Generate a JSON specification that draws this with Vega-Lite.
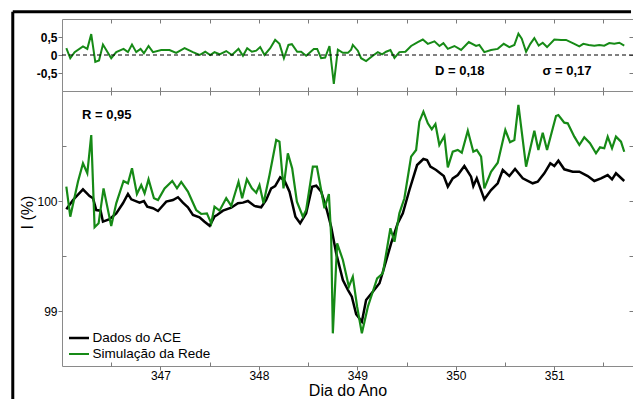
{
  "$schema": "https://vega.github.io/schema/vega-lite/v6.json",
  "padding": {"left": 10, "top": 9, "right": 0, "bottom": 0},
  "autosize": {"type": "pad"},
  "background": "white",
  "spacing": 0,
  "bounds": "flush",
  "config": {
    "font": "Liberation Sans",
    "view": {"stroke": "#8a8a8a", "strokeWidth": 1},
    "axis": {"domain": false, "grid": false, "tickColor": "#7a7a7a", "labelColor": "black", "labelFont": "Liberation Sans", "titleFont": "Liberation Sans", "labelFontSize": 12, "tickSize": 4, "labelPadding": 1, "titleColor": "black"}
  },
  "datasets": {
    "resid": [
      {"dia":346.044,"d":0.19},{"dia":346.084,"d":-0.09},{"dia":346.128,"d":0.08},{"dia":346.213,"d":0.24},{"dia":346.257,"d":0.17},{"dia":346.297,"d":0.58},{"dia":346.338,"d":-0.19},{"dia":346.376,"d":-0.15},{"dia":346.416,"d":0.29},{"dia":346.5,"d":-0.09},{"dia":346.551,"d":0.08},{"dia":346.625,"d":0.17},{"dia":346.67,"d":0.08},{"dia":346.711,"d":0.29},{"dia":346.754,"d":0.08},{"dia":346.798,"d":0.17},{"dia":346.832,"d":0.05},{"dia":346.879,"d":0.25},{"dia":346.924,"d":0.08},{"dia":347.008,"d":0.14},{"dia":347.092,"d":0.14},{"dia":347.16,"d":0.06},{"dia":347.245,"d":0.19},{"dia":347.33,"d":0.08},{"dia":347.397,"d":0.0},{"dia":347.455,"d":0.09},{"dia":347.506,"d":0.0},{"dia":347.549,"d":0.08},{"dia":347.6,"d":0.02},{"dia":347.668,"d":0.11},{"dia":347.726,"d":0.0},{"dia":347.793,"d":0.17},{"dia":347.838,"d":-0.02},{"dia":347.881,"d":0.19},{"dia":347.929,"d":0.09},{"dia":347.973,"d":0.12},{"dia":348.013,"d":0.22},{"dia":348.057,"d":0.0},{"dia":348.115,"d":0.19},{"dia":348.165,"d":0.42},{"dia":348.209,"d":0.31},{"dia":348.254,"d":-0.09},{"dia":348.3,"d":0.28},{"dia":348.335,"d":0.3},{"dia":348.389,"d":0.09},{"dia":348.429,"d":0.09},{"dia":348.48,"d":-0.02},{"dia":348.558,"d":0.17},{"dia":348.592,"d":0.17},{"dia":348.632,"d":-0.09},{"dia":348.673,"d":-0.07},{"dia":348.717,"d":0.25},{"dia":348.761,"d":-0.8},{"dia":348.802,"d":0.15},{"dia":348.853,"d":0.06},{"dia":348.904,"d":0.06},{"dia":348.937,"d":0.15},{"dia":348.954,"d":0.28},{"dia":349.005,"d":0.12},{"dia":349.038,"d":-0.09},{"dia":349.089,"d":-0.17},{"dia":349.157,"d":-0.02},{"dia":349.208,"d":0.08},{"dia":349.252,"d":0.02},{"dia":349.292,"d":0.09},{"dia":349.336,"d":0.14},{"dia":349.377,"d":-0.08},{"dia":349.427,"d":0.08},{"dia":349.488,"d":0.09},{"dia":349.546,"d":0.25},{"dia":349.614,"d":0.36},{"dia":349.665,"d":0.43},{"dia":349.716,"d":0.31},{"dia":349.783,"d":0.38},{"dia":349.834,"d":0.25},{"dia":349.874,"d":0.33},{"dia":349.919,"d":0.17},{"dia":349.986,"d":0.25},{"dia":350.054,"d":0.14},{"dia":350.132,"d":0.36},{"dia":350.206,"d":0.25},{"dia":350.239,"d":0.28},{"dia":350.29,"d":0.08},{"dia":350.358,"d":0.14},{"dia":350.426,"d":0.17},{"dia":350.487,"d":0.31},{"dia":350.544,"d":0.22},{"dia":350.595,"d":0.28},{"dia":350.636,"d":0.59},{"dia":350.67,"d":0.45},{"dia":350.714,"d":0.09},{"dia":350.757,"d":0.31},{"dia":350.798,"d":0.47},{"dia":350.842,"d":0.26},{"dia":350.883,"d":0.34},{"dia":350.927,"d":0.22},{"dia":351.001,"d":0.43},{"dia":351.069,"d":0.42},{"dia":351.12,"d":0.42},{"dia":351.204,"d":0.31},{"dia":351.255,"d":0.24},{"dia":351.295,"d":0.31},{"dia":351.35,"d":0.28},{"dia":351.407,"d":0.26},{"dia":351.458,"d":0.28},{"dia":351.508,"d":0.26},{"dia":351.559,"d":0.33},{"dia":351.61,"d":0.31},{"dia":351.661,"d":0.34},{"dia":351.711,"d":0.26}
    ],
    "main": [
      {"s":"Dados do ACE","dia":346.044,"v":99.925},{"s":"Dados do ACE","dia":346.112,"v":100.009},{"s":"Dados do ACE","dia":346.213,"v":100.106},{"s":"Dados do ACE","dia":346.28,"v":100.045},{"s":"Dados do ACE","dia":346.315,"v":100.025},{"s":"Dados do ACE","dia":346.348,"v":99.918},{"s":"Dados do ACE","dia":346.392,"v":99.912},{"s":"Dados do ACE","dia":346.416,"v":99.812},{"s":"Dados do ACE","dia":346.483,"v":99.834},{"s":"Dados do ACE","dia":346.551,"v":99.888},{"s":"Dados do ACE","dia":346.619,"v":99.979},{"s":"Dados do ACE","dia":346.67,"v":100.064},{"s":"Dados do ACE","dia":346.704,"v":100.015},{"s":"Dados do ACE","dia":346.788,"v":99.985},{"s":"Dados do ACE","dia":346.832,"v":100.0},{"s":"Dados do ACE","dia":346.866,"v":99.948},{"s":"Dados do ACE","dia":346.924,"v":99.934},{"s":"Dados do ACE","dia":346.975,"v":99.909},{"s":"Dados do ACE","dia":347.059,"v":99.994},{"s":"Dados do ACE","dia":347.127,"v":100.009},{"s":"Dados do ACE","dia":347.178,"v":100.034},{"s":"Dados do ACE","dia":347.228,"v":99.985},{"s":"Dados do ACE","dia":347.279,"v":99.943},{"s":"Dados do ACE","dia":347.33,"v":99.873},{"s":"Dados do ACE","dia":347.397,"v":99.852},{"s":"Dados do ACE","dia":347.448,"v":99.812},{"s":"Dados do ACE","dia":347.5,"v":99.775},{"s":"Dados do ACE","dia":347.55,"v":99.86},{"s":"Dados do ACE","dia":347.575,"v":99.873},{"s":"Dados do ACE","dia":347.635,"v":99.912},{"s":"Dados do ACE","dia":347.719,"v":99.939},{"s":"Dados do ACE","dia":347.787,"v":99.979},{"s":"Dados do ACE","dia":347.838,"v":99.985},{"s":"Dados do ACE","dia":347.888,"v":100.0},{"s":"Dados do ACE","dia":347.955,"v":99.955},{"s":"Dados do ACE","dia":348.023,"v":99.943},{"s":"Dados do ACE","dia":348.074,"v":100.009},{"s":"Dados do ACE","dia":348.125,"v":100.115},{"s":"Dados do ACE","dia":348.165,"v":100.136},{"s":"Dados do ACE","dia":348.216,"v":100.215},{"s":"Dados do ACE","dia":348.26,"v":100.185},{"s":"Dados do ACE","dia":348.311,"v":100.085},{"s":"Dados do ACE","dia":348.371,"v":99.857},{"s":"Dados do ACE","dia":348.419,"v":99.797},{"s":"Dados do ACE","dia":348.48,"v":99.888},{"s":"Dados do ACE","dia":348.541,"v":100.13},{"s":"Dados do ACE","dia":348.582,"v":100.139},{"s":"Dados do ACE","dia":348.633,"v":100.085},{"s":"Dados do ACE","dia":348.69,"v":99.918},{"s":"Dados do ACE","dia":348.734,"v":99.766},{"s":"Dados do ACE","dia":348.785,"v":99.525},{"s":"Dados do ACE","dia":348.853,"v":99.282},{"s":"Dados do ACE","dia":348.904,"v":99.191},{"s":"Dados do ACE","dia":348.944,"v":99.13},{"s":"Dados do ACE","dia":348.988,"v":98.97},{"s":"Dados do ACE","dia":349.046,"v":98.903},{"s":"Dados do ACE","dia":349.089,"v":99.1},{"s":"Dados do ACE","dia":349.157,"v":99.175},{"s":"Dados do ACE","dia":349.225,"v":99.252},{"s":"Dados do ACE","dia":349.275,"v":99.403},{"s":"Dados do ACE","dia":349.343,"v":99.615},{"s":"Dados do ACE","dia":349.41,"v":99.797},{"s":"Dados do ACE","dia":349.462,"v":99.888},{"s":"Dados do ACE","dia":349.529,"v":100.1},{"s":"Dados do ACE","dia":349.607,"v":100.327},{"s":"Dados do ACE","dia":349.671,"v":100.382},{"s":"Dados do ACE","dia":349.708,"v":100.373},{"s":"Dados do ACE","dia":349.742,"v":100.312},{"s":"Dados do ACE","dia":349.8,"v":100.282},{"s":"Dados do ACE","dia":349.878,"v":100.227},{"s":"Dados do ACE","dia":349.919,"v":100.13},{"s":"Dados do ACE","dia":349.969,"v":100.206},{"s":"Dados do ACE","dia":350.02,"v":100.236},{"s":"Dados do ACE","dia":350.087,"v":100.318},{"s":"Dados do ACE","dia":350.155,"v":100.221},{"s":"Dados do ACE","dia":350.178,"v":100.136},{"s":"Dados do ACE","dia":350.213,"v":100.206},{"s":"Dados do ACE","dia":350.29,"v":100.015},{"s":"Dados do ACE","dia":350.358,"v":100.1},{"s":"Dados do ACE","dia":350.426,"v":100.161},{"s":"Dados do ACE","dia":350.477,"v":100.282},{"s":"Dados do ACE","dia":350.544,"v":100.227},{"s":"Dados do ACE","dia":350.602,"v":100.291},{"s":"Dados do ACE","dia":350.68,"v":100.206},{"s":"Dados do ACE","dia":350.781,"v":100.161},{"s":"Dados do ACE","dia":350.832,"v":100.175},{"s":"Dados do ACE","dia":350.899,"v":100.252},{"s":"Dados do ACE","dia":350.96,"v":100.343},{"s":"Dados do ACE","dia":351.001,"v":100.318},{"s":"Dados do ACE","dia":351.042,"v":100.366},{"s":"Dados do ACE","dia":351.102,"v":100.288},{"s":"Dados do ACE","dia":351.188,"v":100.266},{"s":"Dados do ACE","dia":351.255,"v":100.266},{"s":"Dados do ACE","dia":351.34,"v":100.227},{"s":"Dados do ACE","dia":351.407,"v":100.182},{"s":"Dados do ACE","dia":351.475,"v":100.206},{"s":"Dados do ACE","dia":351.543,"v":100.236},{"s":"Dados do ACE","dia":351.587,"v":100.197},{"s":"Dados do ACE","dia":351.627,"v":100.252},{"s":"Dados do ACE","dia":351.711,"v":100.182},
      {"s":"Simulação da Rede","dia":346.044,"v":100.13},{"s":"Simulação da Rede","dia":346.084,"v":99.857},{"s":"Simulação da Rede","dia":346.162,"v":100.175},{"s":"Simulação da Rede","dia":346.213,"v":100.343},{"s":"Simulação da Rede","dia":346.257,"v":100.252},{"s":"Simulação da Rede","dia":346.297,"v":100.6},{"s":"Simulação da Rede","dia":346.331,"v":99.761},{"s":"Simulação da Rede","dia":346.372,"v":99.797},{"s":"Simulação da Rede","dia":346.422,"v":100.115},{"s":"Simulação da Rede","dia":346.5,"v":99.773},{"s":"Simulação da Rede","dia":346.551,"v":99.979},{"s":"Simulação da Rede","dia":346.625,"v":100.182},{"s":"Simulação da Rede","dia":346.67,"v":100.161},{"s":"Simulação da Rede","dia":346.711,"v":100.297},{"s":"Simulação da Rede","dia":346.761,"v":100.064},{"s":"Simulação da Rede","dia":346.805,"v":100.145},{"s":"Simulação da Rede","dia":346.839,"v":100.07},{"s":"Simulação da Rede","dia":346.879,"v":100.197},{"s":"Simulação da Rede","dia":346.934,"v":100.025},{"s":"Simulação da Rede","dia":346.975,"v":100.009},{"s":"Simulação da Rede","dia":347.042,"v":100.115},{"s":"Simulação da Rede","dia":347.12,"v":100.182},{"s":"Simulação da Rede","dia":347.168,"v":100.115},{"s":"Simulação da Rede","dia":347.211,"v":100.173},{"s":"Simulação da Rede","dia":347.279,"v":100.085},{"s":"Simulação da Rede","dia":347.363,"v":99.918},{"s":"Simulação da Rede","dia":347.414,"v":99.882},{"s":"Simulação da Rede","dia":347.472,"v":99.888},{"s":"Simulação da Rede","dia":347.516,"v":99.797},{"s":"Simulação da Rede","dia":347.549,"v":99.948},{"s":"Simulação da Rede","dia":347.6,"v":99.912},{"s":"Simulação da Rede","dia":347.668,"v":100.025},{"s":"Simulação da Rede","dia":347.719,"v":99.955},{"s":"Simulação da Rede","dia":347.793,"v":100.175},{"s":"Simulação da Rede","dia":347.83,"v":100.025},{"s":"Simulação da Rede","dia":347.878,"v":100.197},{"s":"Simulação da Rede","dia":347.929,"v":100.115},{"s":"Simulação da Rede","dia":347.973,"v":100.075},{"s":"Simulação da Rede","dia":348.006,"v":100.145},{"s":"Simulação da Rede","dia":348.047,"v":99.979},{"s":"Simulação da Rede","dia":348.108,"v":100.236},{"s":"Simulação da Rede","dia":348.176,"v":100.555},{"s":"Simulação da Rede","dia":348.209,"v":100.539},{"s":"Simulação da Rede","dia":348.25,"v":100.115},{"s":"Simulação da Rede","dia":348.294,"v":100.434},{"s":"Simulação da Rede","dia":348.338,"v":100.297},{"s":"Simulação da Rede","dia":348.386,"v":99.994},{"s":"Simulação da Rede","dia":348.447,"v":99.857},{"s":"Simulação da Rede","dia":348.48,"v":99.918},{"s":"Simulação da Rede","dia":348.548,"v":100.312},{"s":"Simulação da Rede","dia":348.589,"v":100.312},{"s":"Simulação da Rede","dia":348.666,"v":99.934},{"s":"Simulação da Rede","dia":348.711,"v":100.064},{"s":"Simulação da Rede","dia":348.734,"v":99.675},{"s":"Simulação da Rede","dia":348.751,"v":98.797},{"s":"Simulação da Rede","dia":348.795,"v":99.615},{"s":"Simulação da Rede","dia":348.853,"v":99.464},{"s":"Simulação da Rede","dia":348.914,"v":99.221},{"s":"Simulação da Rede","dia":348.954,"v":99.312},{"s":"Simulação da Rede","dia":348.998,"v":99.039},{"s":"Simulação da Rede","dia":349.046,"v":98.797},{"s":"Simulação da Rede","dia":349.107,"v":99.039},{"s":"Simulação da Rede","dia":349.201,"v":99.297},{"s":"Simulação da Rede","dia":349.259,"v":99.343},{"s":"Simulação da Rede","dia":349.336,"v":99.752},{"s":"Simulação da Rede","dia":349.377,"v":99.63},{"s":"Simulação da Rede","dia":349.427,"v":99.888},{"s":"Simulação da Rede","dia":349.478,"v":100.025},{"s":"Simulação da Rede","dia":349.546,"v":100.403},{"s":"Simulação da Rede","dia":349.597,"v":100.464},{"s":"Simulação da Rede","dia":349.63,"v":100.721},{"s":"Simulação da Rede","dia":349.671,"v":100.812},{"s":"Simulação da Rede","dia":349.716,"v":100.706},{"s":"Simulação da Rede","dia":349.756,"v":100.652},{"s":"Simulação da Rede","dia":349.793,"v":100.7},{"s":"Simulação da Rede","dia":349.833,"v":100.509},{"s":"Simulação da Rede","dia":349.884,"v":100.591},{"s":"Simulação da Rede","dia":349.919,"v":100.306},{"s":"Simulação da Rede","dia":349.969,"v":100.448},{"s":"Simulação da Rede","dia":350.02,"v":100.464},{"s":"Simulação da Rede","dia":350.061,"v":100.439},{"s":"Simulação da Rede","dia":350.122,"v":100.639},{"s":"Simulação da Rede","dia":350.178,"v":100.448},{"s":"Simulação da Rede","dia":350.213,"v":100.464},{"s":"Simulação da Rede","dia":350.257,"v":100.403},{"s":"Simulação da Rede","dia":350.29,"v":100.115},{"s":"Simulação da Rede","dia":350.358,"v":100.266},{"s":"Simulação da Rede","dia":350.426,"v":100.348},{"s":"Simulação da Rede","dia":350.503,"v":100.645},{"s":"Simulação da Rede","dia":350.551,"v":100.534},{"s":"Simulação da Rede","dia":350.595,"v":100.555},{"s":"Simulação da Rede","dia":350.636,"v":100.873},{"s":"Simulação da Rede","dia":350.714,"v":100.312},{"s":"Simulação da Rede","dia":350.798,"v":100.639},{"s":"Simulação da Rede","dia":350.839,"v":100.464},{"s":"Simulação da Rede","dia":350.883,"v":100.621},{"s":"Simulação da Rede","dia":350.927,"v":100.464},{"s":"Simulação da Rede","dia":351.018,"v":100.773},{"s":"Simulação da Rede","dia":351.042,"v":100.782},{"s":"Simulação da Rede","dia":351.102,"v":100.712},{"s":"Simulação da Rede","dia":351.137,"v":100.706},{"s":"Simulação da Rede","dia":351.204,"v":100.585},{"s":"Simulação da Rede","dia":351.255,"v":100.509},{"s":"Simulação da Rede","dia":351.305,"v":100.579},{"s":"Simulação da Rede","dia":351.363,"v":100.525},{"s":"Simulação da Rede","dia":351.424,"v":100.434},{"s":"Simulação da Rede","dia":351.465,"v":100.488},{"s":"Simulação da Rede","dia":351.508,"v":100.479},{"s":"Simulação da Rede","dia":351.543,"v":100.585},{"s":"Simulação da Rede","dia":351.587,"v":100.479},{"s":"Simulação da Rede","dia":351.627,"v":100.585},{"s":"Simulação da Rede","dia":351.678,"v":100.539},{"s":"Simulação da Rede","dia":351.711,"v":100.448}
    ]
  },
  "vconcat": [
    {
      "width": 571,
      "height": 72,
      "layer": [
        {
          "data": {"name": "resid"},
          "mark": {"type": "line", "color": "#168a16", "strokeWidth": 2},
          "encoding": {
            "x": {"field": "dia", "type": "quantitative", "scale": {"domain": [346, 351.8], "nice": false, "zero": false},
                  "axis": {"orient": "bottom", "values": [346.5, 347, 347.5, 348, 348.5, 349, 349.5, 350, 350.5, 351, 351.5], "labels": false, "tickSize": -4, "title": null}},
            "y": {"field": "d", "type": "quantitative", "scale": {"domain": [-1, 1], "nice": false},
                  "axis": {"orient": "left", "values": [-0.5, 0, 0.5], "format": ".1~f", "labelExpr": "replace(replace(datum.label, '.', ','), '−', '-')", "labelFontWeight": "bold", "labelFontSize": 12, "title": null}}
          }
        },
        {
          "data": {"name": "resid"},
          "mark": {"type": "point", "opacity": 0},
          "encoding": {
            "x": {"field": "dia", "type": "quantitative", "axis": {"orient": "top", "values": [346.5, 347, 347.5, 348, 348.5, 349, 349.5, 350, 350.5, 351, 351.5], "labels": false, "tickSize": -4, "title": null}},
            "y": {"field": "d", "type": "quantitative", "axis": {"orient": "right", "values": [-0.5, 0, 0.5], "labels": false, "tickSize": -4, "title": null}}
          }
        },
        {
          "data": {"values": [{}]},
          "mark": {"type": "rule", "strokeDash": [4, 3], "color": "black", "strokeWidth": 1},
          "encoding": {"y": {"datum": 0, "type": "quantitative", "axis": null}}
        },
        {
          "data": {"values": [{}]},
          "mark": {"type": "text", "fontWeight": "bold", "fontSize": 13, "font": "Liberation Sans", "color": "black"},
          "encoding": {"x": {"datum": 350.04, "type": "quantitative", "axis": null}, "y": {"datum": -0.45, "type": "quantitative", "axis": null}, "text": {"value": "D = 0,18"}}
        },
        {
          "data": {"values": [{}]},
          "mark": {"type": "text", "fontWeight": "bold", "fontSize": 13, "font": "Liberation Sans", "color": "black"},
          "encoding": {"x": {"datum": 351.13, "type": "quantitative", "axis": null}, "y": {"datum": -0.45, "type": "quantitative", "axis": null}, "text": {"value": "σ = 0,17"}}
        }
      ],
      "resolve": {"axis": {"x": "independent", "y": "independent"}}
    },
    {
      "width": 571,
      "height": 275,
      "layer": [
        {
          "data": {"name": "main"},
          "mark": {"type": "line"},
          "encoding": {
            "x": {"field": "dia", "type": "quantitative", "scale": {"domain": [346, 351.8], "nice": false, "zero": false},
                  "axis": {"orient": "bottom", "values": [347, 348, 349, 350, 351], "format": "d", "tickSize": 4, "labelPadding": 0, "title": "Dia do Ano", "titleFontSize": 16, "titleFontWeight": "normal", "titlePadding": 1}},
            "y": {"field": "v", "type": "quantitative", "scale": {"domain": [98.5, 101], "nice": false, "zero": false},
                  "axis": {"orient": "left", "values": [99, 100], "format": "d", "title": "I (%)", "titleFontSize": 16, "titleFontWeight": "normal", "titleX": -35, "titleY": 121, "titleAngle": 270, "titleAlign": "center", "titleBaseline": "middle"}},
            "color": {"field": "s", "type": "nominal", "scale": {"domain": ["Dados do ACE", "Simulação da Rede"], "range": ["#000000", "#168a16"]},
                      "legend": {"orient": "none", "legendX": 5.5, "legendY": 311, "title": null, "symbolType": "stroke", "symbolSize": 400, "symbolStrokeWidth": 2.5, "labelFontSize": 13.5, "labelFont": "Liberation Sans", "labelColor": "black", "labelOffset": 2, "clipHeight": 16, "rowPadding": 0, "padding": 0, "direction": "vertical"}},
            "strokeWidth": {"field": "s", "type": "nominal", "scale": {"domain": ["Dados do ACE", "Simulação da Rede"], "range": [2.5, 2.2]}, "legend": null}
          }
        },
        {
          "data": {"name": "main"},
          "mark": {"type": "point", "opacity": 0},
          "encoding": {
            "x": {"field": "dia", "type": "quantitative", "axis": {"orient": "bottom", "values": [346.5, 347.5, 348.5, 349.5, 350.5, 351.5], "labels": false, "tickSize": -4, "title": null}},
            "y": {"field": "v", "type": "quantitative", "axis": {"orient": "left", "values": [99.5, 100.5], "labels": false, "tickSize": -4, "title": null}}
          }
        },
        {
          "data": {"name": "main"},
          "mark": {"type": "point", "opacity": 0},
          "encoding": {
            "x": {"field": "dia", "type": "quantitative", "axis": {"orient": "top", "values": [346.5, 347, 347.5, 348, 348.5, 349, 349.5, 350, 350.5, 351, 351.5], "labels": false, "tickSize": -4, "title": null}},
            "y": {"field": "v", "type": "quantitative", "axis": {"orient": "right", "values": [99, 99.5, 100, 100.5], "labels": false, "tickSize": -4, "title": null}}
          }
        },
        {
          "data": {"values": [{}]},
          "mark": {"type": "text", "fontWeight": "bold", "fontSize": 13, "font": "Liberation Sans", "color": "black"},
          "encoding": {"x": {"datum": 346.455, "type": "quantitative", "axis": null}, "y": {"datum": 100.78, "type": "quantitative", "axis": null}, "text": {"value": "R = 0,95"}}
        },
        {
          "data": {"values": [{}]},
          "mark": {"type": "rule", "color": "black", "strokeWidth": 3},
          "encoding": {"x": {"datum": 345.5, "type": "quantitative", "axis": null}, "y": {"datum": 98.2, "type": "quantitative", "axis": null}, "y2": {"datum": 101.72}}
        },
        {
          "data": {"values": [{}]},
          "mark": {"type": "rule", "color": "black", "strokeWidth": 3},
          "encoding": {"x": {"datum": 345.5, "type": "quantitative", "axis": null}, "x2": {"datum": 351.78}, "y": {"datum": 101.72, "type": "quantitative", "axis": null}}
        }
      ],
      "resolve": {"axis": {"x": "independent", "y": "independent"}}
    }
  ]
}
